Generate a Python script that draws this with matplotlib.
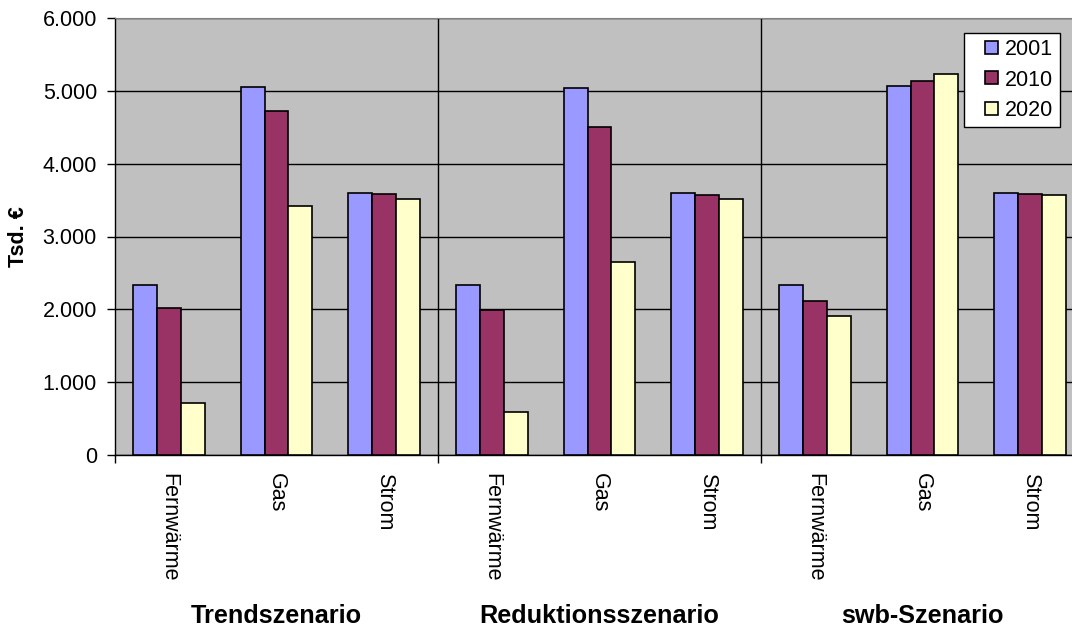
import numpy as np
import matplotlib
matplotlib.use("agg")
import matplotlib.pyplot as plt
import matplotlib.transforms as mtransforms
from matplotlib.container import BarContainer
from matplotlib.patches import Rectangle
from matplotlib.legend_handler import HandlerPatch, update_from_first_child
from matplotlib.ticker import FuncFormatter, MultipleLocator

scenarios = ["Trendszenario", "Reduktionsszenario", "swb-Szenario"]
energy_types = ["Fernwärme", "Gas", "Strom"]
years = ["2001", "2010", "2020"]

# Tsd. EUR, order: scenario x energy type
values_2001 = [2335, 5050, 3600, 2330, 5040, 3595, 2338, 5066, 3600]
values_2010 = [2015, 4725, 3581, 1990, 4507, 3576, 2109, 5135, 3586]
values_2020 = [711, 3415, 3521, 585, 2650, 3521, 1912, 5227, 3576]

colors = ["#9999FF", "#993366", "#FFFFCC"]

plt.rcParams["font.family"] = ["Liberation Sans", "DejaVu Sans"]
FS = 15.5

fig = plt.figure(figsize=(10.72, 6.28), dpi=100)
# plot area runs slightly past the right edge, like in the original
ax = fig.add_axes([115 / 1072, 173 / 628, 969 / 1072, 437 / 628])
ax.set_facecolor("#C0C0C0")

x = np.arange(len(values_2001))
w = 1 / 4.5  # Excel gap width 150%
series = [values_2001, values_2010, values_2020]
for i, (vals, c, lab) in enumerate(zip(series, colors, years)):
    ax.bar(x + (i - 1) * w, vals, width=w, color=c, edgecolor="black",
           linewidth=1.2, label=lab, zorder=3)

ax.set_xlim(-0.5, 8.5)
ax.set_ylim(0, 6000)

# separators between the scenarios
for b in [2.5, 5.5]:
    ax.axvline(b, color="black", lw=1, zorder=2)

ax.yaxis.set_major_locator(MultipleLocator(1000))
ax.yaxis.set_major_formatter(FuncFormatter(lambda v, p: f"{int(v):,}".replace(",", ".")))
ax.yaxis.grid(True, color="black", lw=1)
ax.set_axisbelow(True)
ax.tick_params(axis="y", labelsize=FS, length=6, width=1, direction="out", pad=7)

ax.set_xticks(x)
ax.set_xticklabels(energy_types * 3, rotation=270, fontsize=FS)
ax.tick_params(axis="x", which="major", length=0, pad=13)
ax.set_xticks([-0.5, 2.5, 5.5, 8.5], minor=True)
ax.tick_params(axis="x", which="minor", length=6, width=1, direction="out")

for s in ["left", "bottom"]:
    ax.spines[s].set_color("black")
    ax.spines[s].set_linewidth(1)
ax.spines["top"].set_color("#808080")
ax.spines["right"].set_visible(False)

ax.set_ylabel("Tsd. €", fontsize=FS, fontweight="bold", labelpad=10)

trans = mtransforms.blended_transform_factory(ax.transData, fig.transFigure)
for k, name in enumerate(scenarios):
    ax.text(3 * k + 1, 1 - 616 / 628, name, transform=trans, ha="center",
            va="center", fontsize=18.2, fontweight="bold")


def square_patch(legend, orig_handle, xdescent, ydescent, width, height, fontsize):
    side = 13 * 72 / 100
    return Rectangle((-xdescent + width - side, -ydescent + (height - side) / 2),
                     side, side)


leg = ax.legend(loc="upper left", bbox_to_anchor=(964 / 1072, 1 - 33 / 628),
                bbox_transform=fig.transFigure, fontsize=FS, frameon=True,
                fancybox=False, borderpad=0.3, labelspacing=0.42,
                handlelength=1.3, handleheight=0.7, handletextpad=0.3,
                borderaxespad=0,
                handler_map={BarContainer: HandlerPatch(
                    patch_func=square_patch, update_func=update_from_first_child)})
leg.get_frame().set_edgecolor("black")
leg.get_frame().set_linewidth(1)
leg.get_frame().set_facecolor("white")
leg.get_frame().set_alpha(1)
leg.set_zorder(10)

fig.savefig("out.png", dpi=100)
